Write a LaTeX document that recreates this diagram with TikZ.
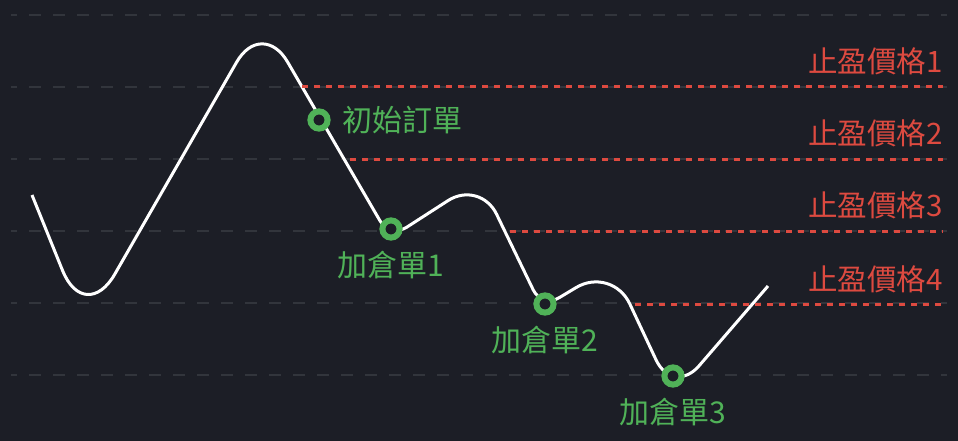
\documentclass[tikz,border=0pt]{standalone}
\usepackage{fontspec}
\setmainfont{Noto Sans CJK TC}
\usetikzlibrary{positioning}

\definecolor{bgdark}{RGB}{28,30,38}
\definecolor{gridgray}{RGB}{50,53,60}
\definecolor{tpred}{RGB}{221,74,64}
\definecolor{ordgreen}{RGB}{80,178,88}

\tikzset{
  order/.style={draw=ordgreen, fill=bgdark, circle, line width=6pt, minimum size=17.2pt, inner sep=0pt, outer sep=0pt},
  ordlabel/.style={text=ordgreen, font=\fontsize{30}{32}\selectfont, inner sep=0pt},
  tplabel/.style={text=tpred, font=\fontsize{29.5}{32}\selectfont, inner sep=0pt},
  tpline/.style={draw=tpred, line width=3pt, dash pattern=on 6pt off 6pt},
  gridline/.style={draw=gridgray, line width=2pt, dash pattern=on 12pt off 12pt, dash phase=6pt},
  price/.style={draw=white, line width=3pt}
}

\begin{document}
\begin{tikzpicture}[x=1pt, y=-1pt]
    \fill[bgdark] (0,0) rectangle (958,441);
    \useasboundingbox (0,0) rectangle (958,441);

    \foreach \y in {15,87,...,375}
        \draw[gridline] (11,\y) -- (947,\y);

    % price path
    \coordinate (p0) at (32,195);
    \coordinate (v1) at (85,326);
    \coordinate (v2) at (262,18);
    \coordinate (v3) at (390,238);
    \coordinate (v4) at (480,180);
    \coordinate (v5) at (542,308);
    \coordinate (v6) at (612,266);
    \coordinate (v7) at (673,396);
    \coordinate (p1) at (768,286);

    \draw[price] (p0) [rounded corners=60pt] -- (v1) [rounded corners=51pt] -- (v2)
        [rounded corners=20pt] -- (v3) [rounded corners=38pt] -- (v4)
        [rounded corners=20pt] -- (v5) [rounded corners=42pt] -- (v6)
        [rounded corners=40pt] -- (v7) [sharp corners] -- (p1);

    % take profit lines
    \coordinate (t1a) at (302,87);
    \coordinate (t1b) at (943,87);
    \coordinate (t2a) at (350,159);
    \coordinate (t2b) at (943,159);
    \coordinate (t3a) at (510,231);
    \coordinate (t3b) at (943,231);
    \coordinate (t4a) at (635,304);
    \coordinate (t4b) at (943,304);

    \draw[tpline] (t1a) -- (t1b);
    \draw[tpline] (t2a) -- (t2b);
    \draw[tpline] (t3a) -- (t3b);
    \draw[tpline] (t4a) -- (t4b);

    \node[tplabel, above left=12pt and 0pt of t1b] (t1) {止盈價格1};
    \node[tplabel, above left=12pt and 0pt of t2b] (t2) {止盈價格2};
    \node[tplabel, above left=12pt and 0pt of t3b] (t3) {止盈價格3};
    \node[tplabel, above left=11pt and 0pt of t4b] (t4) {止盈價格4};

    % orders
    \node[order] (o0) at (319,120) {};
    \node[order] (o1) at (391,229) {};
    \node[order] (o2) at (545,304) {};
    \node[order] (o3) at (673,376) {};

    \node[ordlabel, right=15pt of o0] (l0) {初始訂單};
    \node[ordlabel, below=13pt of o1] (l1) {加倉單1};
    \node[ordlabel, below=13pt of o2] (l2) {加倉單2};
    \node[ordlabel, below=13pt of o3] (l3) {加倉單3};
\end{tikzpicture}
\end{document}
